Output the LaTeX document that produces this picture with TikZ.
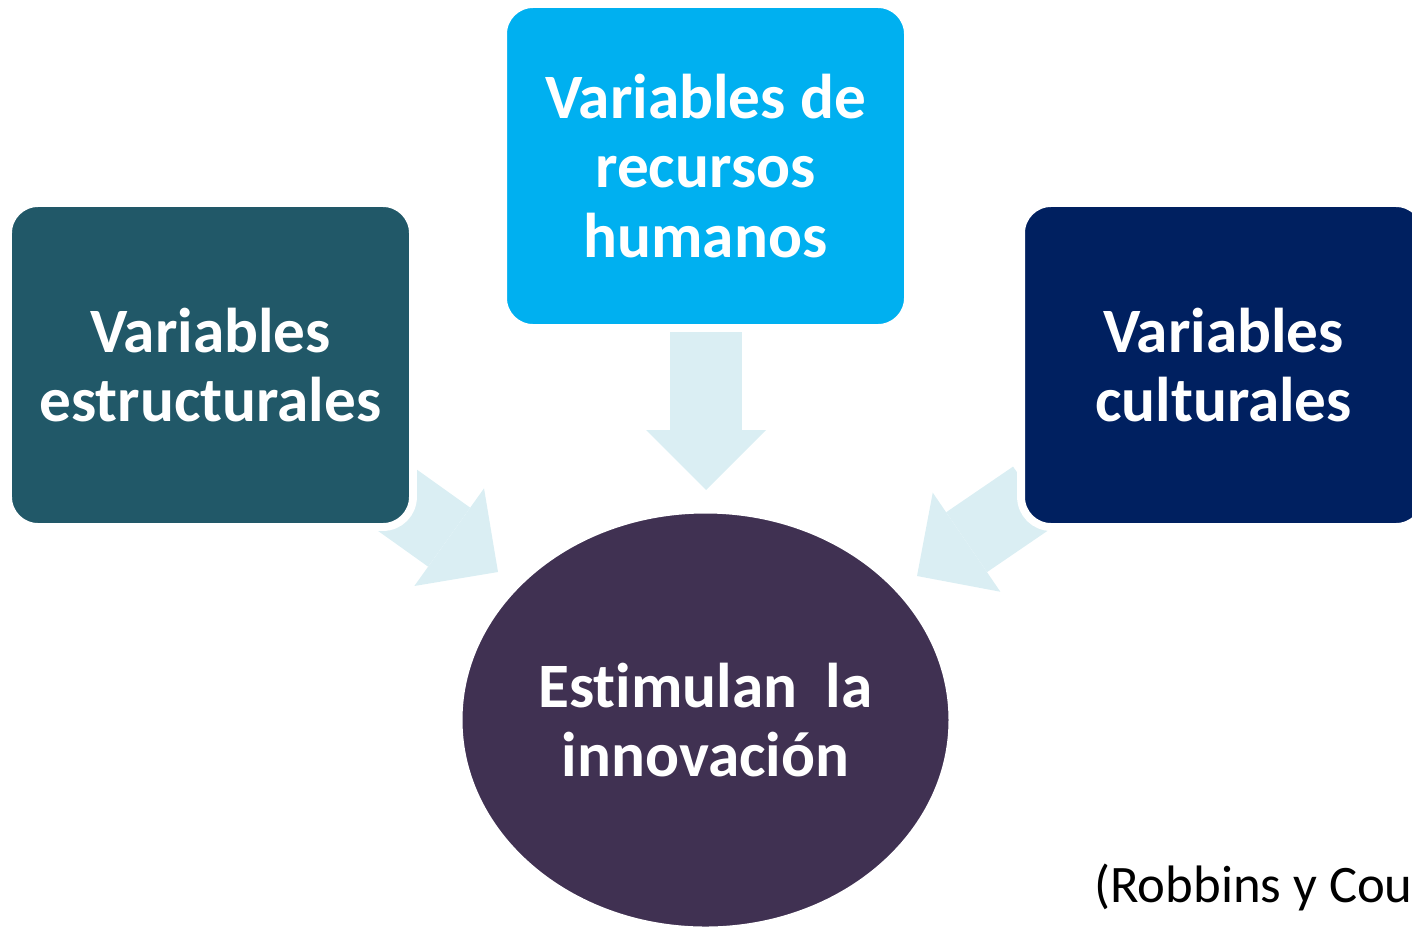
\documentclass[tikz,border=0pt]{standalone}
\usepackage{fontspec}
\setmainfont{Carlito}[Ligatures=NoCommon]
\usetikzlibrary{positioning,shapes.geometric,arrows.meta}
\definecolor{tealvar}{HTML}{215868}
\definecolor{cyanvar}{HTML}{00B0F0}
\definecolor{navyvar}{HTML}{002060}
\definecolor{plumvar}{HTML}{403152}
\definecolor{flecha}{HTML}{DAEEF3}
\tikzset{
  caja/.style={draw=white, line width=4.5pt, rectangle, rounded corners=0.6cm, minimum width=8.1cm, minimum height=6.48cm, inner sep=0pt, text=white, align=center, font=\fontsize{36}{39.7}\selectfont\bfseries},
  flechota/.style={draw=flecha, line width=1.45cm, -{Triangle[length=1.2cm, width=2.4cm, line width=0pt]}}
}

\begin{document}
\begin{tikzpicture}[x=0.02cm, y=-0.02cm]
        \path[use as bounding box] (0,0) rectangle (1412,927);
        \clip (0,0) rectangle (1412,927);
        % flechas
        \coordinate (izqsal) at (395,498.5);
        \coordinate (izqpun) at (498,572);
        \coordinate (arrsal) at (706,330);
        \coordinate (arrpun) at (706,490);
        \coordinate (dersal) at (1033.5,496.5);
        \coordinate (derpun) at (917,576);
        \draw[flechota] (izqsal) -- (izqpun);
        \draw[flechota] (arrsal) -- (arrpun);
        \draw[flechota] (dersal) -- (derpun);
        % cajas
        \node[caja, fill=tealvar] (estruct) at (210.5,365) {Variables\\estructurales};
        \node[caja, fill=cyanvar] (recursos) at (705.5,166) {Variables de\\recursos\\humanos};
        \node[caja, fill=navyvar] (cultura) at (1223.5,365) {Variables\\culturales};
        \node[draw=white, line width=4.5pt, ellipse, fill=plumvar, minimum width=9.88cm, minimum height=8.42cm, inner sep=0pt, text=white, align=center, font=\fontsize{36}{39.7}\selectfont\bfseries] (innova) at (705.5,720) {Estimulan~~la\\innovación};
        \node[anchor=base west, inner sep=0pt, font=\fontsize{30}{32}\selectfont] (fuente) at (1094,902) {(Robbins y Cou};
    \end{tikzpicture}
\end{document}
